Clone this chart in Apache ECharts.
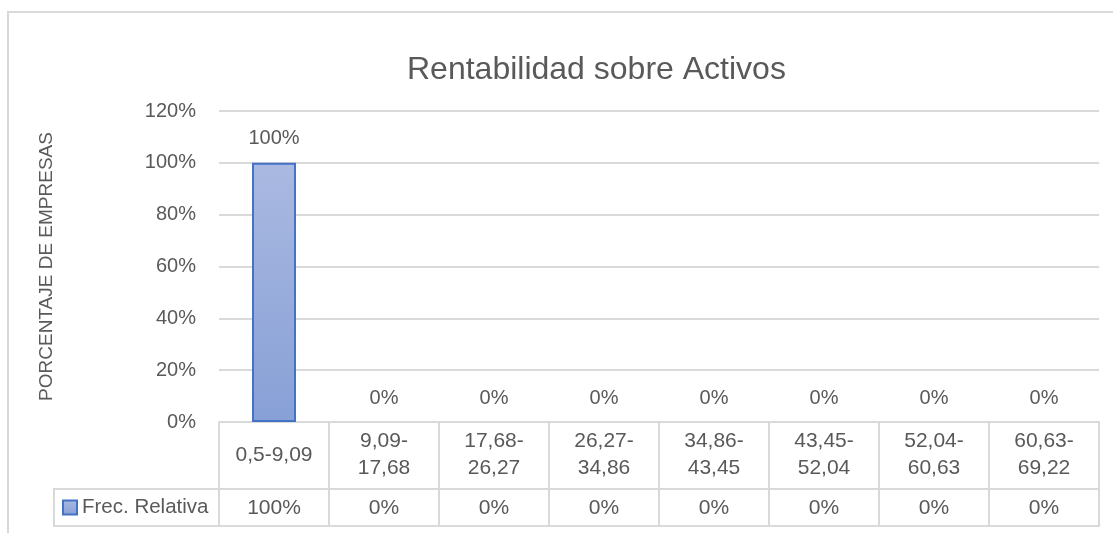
<!DOCTYPE html>
<html>
<head>
<meta charset="utf-8">
<script src="https://cdn.jsdelivr.net/npm/echarts@6/dist/echarts.min.js"></script>
<style>
html,body{margin:0;padding:0;background:#fff;}
#chart{width:1113px;height:533px;}
</style>
</head>
<body>
<div id="chart"></div>
<script>
// ---- data ----
const titleText = 'Rentabilidad sobre Activos';
const yAxisName = 'PORCENTAJE DE EMPRESAS';
const seriesName = 'Frec. Relativa';
const categories = ['0,5-9,09', '9,09-17,68', '17,68-26,27', '26,27-34,86', '34,86-43,45', '43,45-52,04', '52,04-60,63', '60,63-69,22'];
const values = [100, 0, 0, 0, 0, 0, 0, 0];
const yMin = 0, yMax = 120, yInterval = 20;

// ---- layout ----
const FONT = '"Liberation Sans", Arial, sans-serif';
const TXT = '#595959';
const LINE = '#d9d9d9';
const GRID_L = 219, GRID_R = 14, GRID_T = 111, GRID_B = 111;
const CAT_ROW_H = 67, VAL_ROW_H = 37;
const LEGEND_CELL_L = 54;

const chart = echarts.init(document.getElementById('chart'), null, {renderer: 'canvas'});
const H = 533;
const baseY = H - GRID_B;
const row2Y = baseY + CAT_ROW_H;
const row3Y = row2Y + VAL_ROW_H;

const barColor = new echarts.graphic.LinearGradient(0, 0, 0, 1, [
  {offset: 0, color: '#aab9e1'},
  {offset: 1, color: '#87a0d6'}
]);

// zero-height bars draw no outline (as in the source)
const barData = values.map(v => v === 0 ? {value: v, itemStyle: {borderWidth: 0}} : {value: v});

chart.setOption({
  animation: false,
  backgroundColor: '#ffffff',
  textStyle: {fontFamily: FONT},
  title: {
    text: titleText,
    left: 402, top: 49,
    textStyle: {fontFamily: FONT, fontSize: 32, fontWeight: 'normal', color: TXT}
  },
  legend: {
    data: [seriesName],
    left: 62, top: row2Y + 8, padding: 0,
    icon: 'rect', itemWidth: 14, itemHeight: 14, itemGap: 5,
    textStyle: {fontFamily: FONT, fontSize: 20.5, color: TXT}
  },
  grid: {left: GRID_L, right: GRID_R, top: GRID_T, bottom: GRID_B, containLabel: false},
  xAxis: [
    {
      type: 'category', data: categories, position: 'bottom',
      axisLine: {show: true, lineStyle: {color: LINE, width: 2}},
      axisTick: {show: true, interval: 0, length: CAT_ROW_H + VAL_ROW_H, lineStyle: {color: LINE, width: 2}},
      axisLabel: {
        interval: 0, margin: 33, verticalAlign: 'middle', lineHeight: 27,
        fontFamily: FONT, fontSize: 21, color: TXT,
        formatter: v => v.length > 8 ? v.replace('-', '-\n') : v
      }
    },
    {
      type: 'category', data: values.map(v => v + '%'), position: 'bottom', offset: CAT_ROW_H,
      axisLine: {show: true, lineStyle: {color: LINE, width: 2}},
      axisTick: {show: false},
      axisLabel: {interval: 0, margin: 19, verticalAlign: 'middle', fontFamily: FONT, fontSize: 21, color: TXT}
    },
    {
      type: 'category', data: categories, position: 'bottom', offset: CAT_ROW_H + VAL_ROW_H,
      axisLine: {show: true, lineStyle: {color: LINE, width: 2}},
      axisTick: {show: false}, axisLabel: {show: false}
    }
  ],
  yAxis: {
    type: 'value', min: yMin, max: yMax, interval: yInterval,
    name: yAxisName, nameLocation: 'middle', nameGap: 163, nameRotate: 90,
    nameTextStyle: {fontFamily: FONT, fontSize: 19, color: TXT},
    axisLine: {show: false}, axisTick: {show: false},
    axisLabel: {formatter: '{value}%', margin: 23, fontFamily: FONT, fontSize: 20, color: TXT},
    splitLine: {lineStyle: {color: LINE, width: 2}}
  },
  series: [{
    name: seriesName, type: 'bar', data: barData, xAxisIndex: 0,
    barWidth: 44,
    itemStyle: {color: barColor, borderColor: '#4472c4', borderWidth: 2},
    label: {show: true, position: 'top', distance: 14, formatter: p => p.value + '%',
      fontFamily: FONT, fontSize: 20, color: TXT}
  }],
  graphic: [
    {type: 'rect', silent: true, z: -1,
      shape: {x: 8, y: 12, width: 1300, height: 700},
      style: {fill: 'none', stroke: LINE, lineWidth: 2}},
    {type: 'line', silent: true, shape: {x1: LEGEND_CELL_L, y1: row2Y, x2: GRID_L, y2: row2Y}, style: {stroke: LINE, lineWidth: 2}},
    {type: 'line', silent: true, shape: {x1: LEGEND_CELL_L, y1: row3Y, x2: GRID_L, y2: row3Y}, style: {stroke: LINE, lineWidth: 2}},
    {type: 'line', silent: true, shape: {x1: LEGEND_CELL_L, y1: row2Y - 1, x2: LEGEND_CELL_L, y2: row3Y + 1}, style: {stroke: LINE, lineWidth: 2}}
  ]
});
</script>
</body>
</html>
